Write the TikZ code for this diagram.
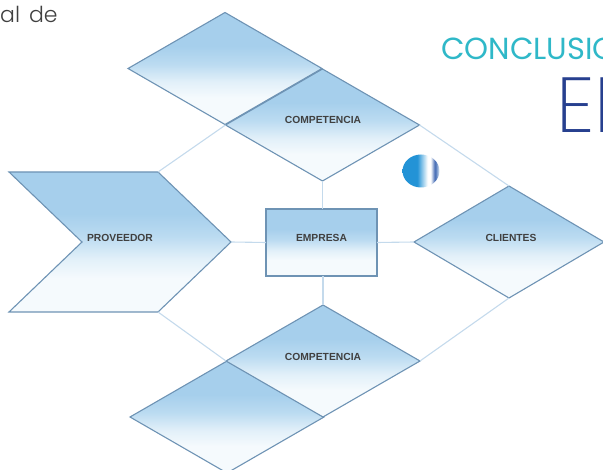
\documentclass[tikz,border=0pt]{standalone}
\usepackage{fontspec}
\setmainfont{Liberation Sans}
\newfontfamily\lightfont{Poppins Light}
\newfontfamily\regfont{Poppins}
\newfontfamily\thinfont{Poppins ExtraLight}
\usetikzlibrary{shapes.geometric}
\definecolor{edgeblue}{HTML}{6E93B4}
\definecolor{linkblue}{HTML}{C4DAEC}
\definecolor{titlecyan}{HTML}{2FB8C8}
\definecolor{titlenavy}{HTML}{27408F}
\definecolor{shA}{HTML}{A6CFEC}
\definecolor{shB}{HTML}{BBDBF1}
\definecolor{shC}{HTML}{E2F0F9}
\definecolor{shD}{HTML}{F5FAFD}
\definecolor{ballA}{HTML}{2393D6}
\definecolor{ballB}{HTML}{3A63B0}
\pgfdeclareverticalshading{panelshade}{100bp}{
  color(0bp)=(shD);
  color(25bp)=(shD);
  color(37bp)=(shD);
  color(44bp)=(shC);
  color(52bp)=(shB);
  color(60bp)=(shA);
  color(75bp)=(shA);
  color(100bp)=(shA)}
\pgfdeclarehorizontalshading{ballshade}{100bp}{
  color(0bp)=(ballA);
  color(45bp)=(ballA);
  color(59bp)=(white);
  color(63bp)=(white);
  color(69bp)=(ballB);
  color(75bp)=(shC);
  color(100bp)=(shC)}
\tikzset{
  panel/.style={draw=edgeblue,line width=1.1pt,shading=panelshade,inner sep=0pt,outer sep=0pt,line join=miter},
  rhomb/.style={panel,diamond,minimum width=194pt,minimum height=112pt},
  link/.style={draw=linkblue,line width=1.1pt},
  tag/.style={font=\bfseries\fontsize{10.3}{12}\selectfont,text=black!75,inner sep=0pt}
}
\begin{document}
\begin{tikzpicture}[x=1pt,y=-1pt]
\useasboundingbox (0,0) rectangle (603,470);
\clip (0,0) rectangle (603,470);
\node[rhomb] (blankup) at (225,68.5) {};
\node[rhomb] (compup) at (322.5,125) {};
\node[rhomb,minimum width=190pt] (clientes) at (509,242) {};
\node[rhomb] (blanklow) at (227,417) {};
\node[rhomb] (complow) at (323,361) {};
\node[panel,rectangle,minimum width=111pt,minimum height=67pt] (empresa) at (321.5,242.5) {};
\coordinate (pa) at (9,172);
\coordinate (pb) at (158,172);
\coordinate (pc) at (231,242);
\coordinate (pd) at (158,312);
\coordinate (pe) at (9,312);
\coordinate (pf) at (82,242);
\path[panel] (pa) -- (pb) -- (pc) -- (pd) -- (pe) -- (pf) -- cycle;
\path[link] (pb) -- (compup.west);
\path[link] (compup.east) -- (clientes.north);
\path[link] (compup.south) -- (empresa.north -| compup.south);
\path[link] (pc) -- (empresa.west);
\path[link] (empresa.east) -- (clientes.west);
\path[link] (empresa.south -| complow.north) -- (complow.north);
\path[link] (pd) -- (complow.west);
\path[link] (complow.east) -- (clientes.south);
\node[tag] (t1) at (323,120) {COMPETENCIA};
\node[tag] (t2) at (323,357) {COMPETENCIA};
\node[tag] (t3) at (120,238) {PROVEEDOR};
\node[tag] (t4) at (321.5,238) {EMPRESA};
\node[tag] (t5) at (511,238) {CLIENTES};
\node[ellipse,minimum width=37pt,minimum height=33pt,shading=ballshade,inner sep=0pt] (ball) at (421,171) {};
\node[anchor=base west,inner sep=0pt,font=\lightfont\fontsize{22}{26}\selectfont,text=black!75] (intro) at (0,23) {al\hspace{9pt}de};
\node[anchor=base west,inner sep=0pt,font=\regfont\fontsize{30.5}{34}\selectfont,text=titlecyan] (concl) at (441,60) {CONCLUSIO};
\node[anchor=base west,inner sep=0pt,font=\thinfont\fontsize{78}{80}\selectfont,text=titlenavy] (big) at (556,133) {EL};
\end{tikzpicture}
\end{document}
